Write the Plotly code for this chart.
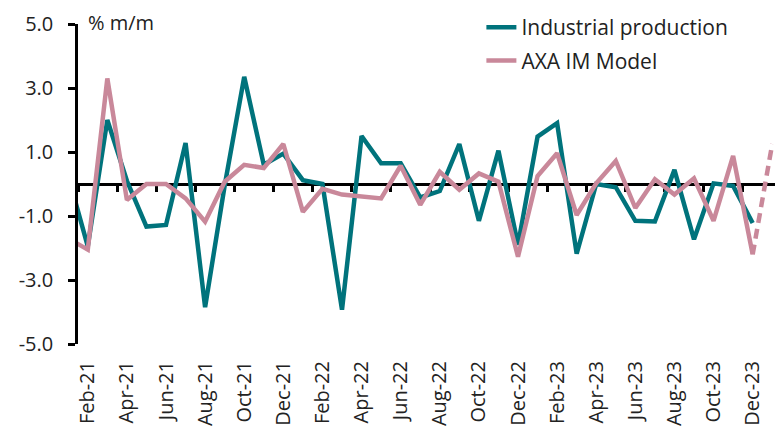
import plotly.graph_objects as go

# ---- data ----
months = ["Jan-21", "Feb-21", "Mar-21", "Apr-21", "May-21", "Jun-21", "Jul-21", "Aug-21",
          "Sep-21", "Oct-21", "Nov-21", "Dec-21", "Jan-22", "Feb-22", "Mar-22", "Apr-22",
          "May-22", "Jun-22", "Jul-22", "Aug-22", "Sep-22", "Oct-22", "Nov-22", "Dec-22",
          "Jan-23", "Feb-23", "Mar-23", "Apr-23", "May-23", "Jun-23", "Jul-23", "Aug-23",
          "Sep-23", "Oct-23", "Nov-23", "Dec-23", "Jan-24"]

industrial_production = [0.25, -1.95, 2.0, 0.1, -1.33, -1.28, 1.28, -3.85,
                         -0.05, 3.35, 0.6, 0.95, 0.12, 0.0, -3.93, 1.5,
                         0.65, 0.65, -0.42, -0.22, 1.25, -1.15, 1.04, -1.9,
                         1.48, 1.9, -2.18, 0.0, -0.1, -1.15, -1.17, 0.44,
                         -1.73, 0.02, -0.06, -1.22, None]

axa_model = [-1.7, -2.05, 3.3, -0.5, 0.0, 0.0, -0.45, -1.18,
             0.07, 0.6, 0.5, 1.25, -0.87, -0.15, -0.33, -0.4,
             -0.45, 0.57, -0.65, 0.38, -0.18, 0.33, 0.07, -2.27,
             0.25, 0.96, -0.97, 0.02, 0.72, -0.75, 0.15, -0.33,
             0.18, -1.15, 0.88, -2.2]
axa_model_forecast = 1.25  # Jan-24, dashed

y_tick_values = [-5, -3, -1, 1, 3, 5]
y_tick_labels = ["-5.0", "-3.0", "-1.0", "1.0", "3.0", "5.0"]

TEAL = "#00737C"
PINK = "#C9889A"
FONT = "Open Sans"
TXT = "#222222"

idx = list(range(len(months)))
label_idx = idx[1::2]
label_text = [months[i] for i in label_idx]
boundaries = [i + 0.5 for i in idx[0::2]]

fig = go.Figure()
fig.add_trace(go.Scatter(x=idx, y=industrial_production, mode="lines",
                         name="Industrial production", legendgroup="ip",
                         line=dict(color=TEAL, width=4.5)))
fig.add_trace(go.Scatter(x=idx[:len(axa_model)], y=axa_model, mode="lines",
                         name="AXA IM Model", legendgroup="axa",
                         line=dict(color=PINK, width=4.5)))
fig.add_trace(go.Scatter(x=idx[len(axa_model) - 1:len(axa_model) + 1],
                         y=[axa_model[-1], axa_model_forecast], mode="lines",
                         showlegend=False, legendgroup="axa",
                         line=dict(color=PINK, width=4.5, dash="10px,6px")))
fig.add_trace(go.Scatter(x=[None], y=[None], xaxis="x2", showlegend=False,
                         hoverinfo="skip", mode="lines"))

x_range = [0.5, len(months) - 0.5]

# page body has an 8px default margin: figure is sized to fit the 783x428 window
fig.update_layout(
    width=775, height=420,
    margin=dict(l=70, r=1, t=16, b=84, autoexpand=False),
    paper_bgcolor="white", plot_bgcolor="white",
    font=dict(family=FONT, size=20, color=TXT),
    showlegend=True,
    legend=dict(x=0.573, y=1.053, xanchor="left", yanchor="top",
                traceorder="grouped", tracegroupgap=3,
                font=dict(family=FONT, size=21, color=TXT),
                bgcolor="rgba(0,0,0,0)"),
    xaxis=dict(range=x_range, tickmode="array", tickvals=label_idx, ticktext=label_text,
               tickangle=-90, ticks="", showline=False, showgrid=False, zeroline=False,
               automargin=False, ticklabelstandoff=12, tickfont=dict(size=20)),
    xaxis2=dict(range=x_range, overlaying="x", anchor="free", position=0.5,
                side="bottom", tickmode="array", tickvals=boundaries,
                showticklabels=False, ticks="outside", ticklen=6, tickwidth=2.5,
                tickcolor="black", showline=True, linecolor="black", linewidth=2.5,
                showgrid=False, zeroline=False, layer="below traces", automargin=False),
    yaxis=dict(range=[-5, 5], tickmode="array", tickvals=y_tick_values,
               ticktext=y_tick_labels, ticks="outside", ticklen=7, tickwidth=2.5,
               tickcolor="black", showline=True, linecolor="black", linewidth=2.5,
               showgrid=False, zeroline=False, ticklabelstandoff=11, automargin=False,
               tickfont=dict(size=20)),
    annotations=[dict(text="% m/m", xref="paper", yref="paper", x=0.012, y=1.005,
                      xanchor="left", yanchor="middle", showarrow=False,
                      font=dict(family=FONT, size=20, color=TXT))],
)

fig.write_html("out.html")
